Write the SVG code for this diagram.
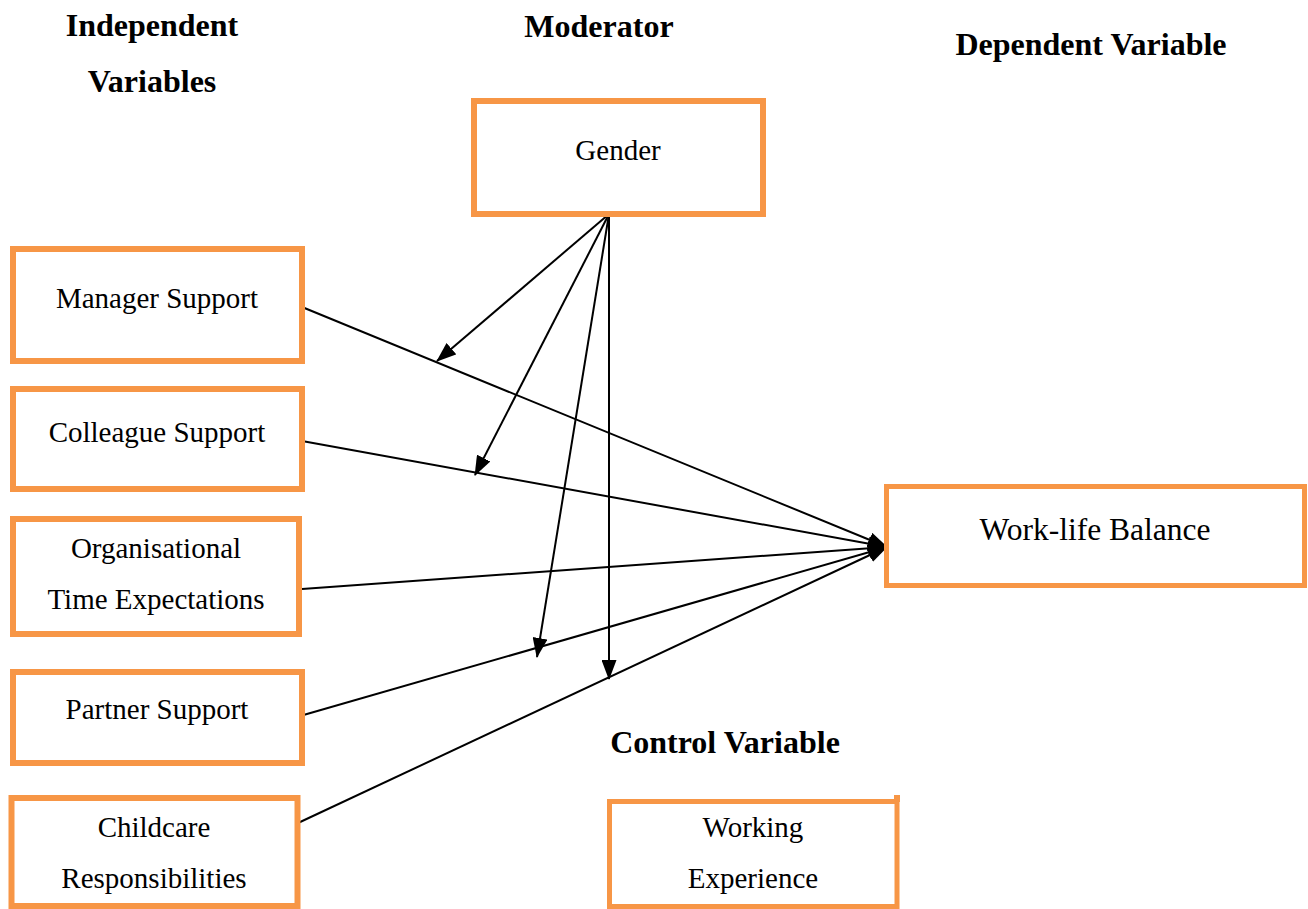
<svg xmlns="http://www.w3.org/2000/svg" width="1308" height="909" viewBox="0 0 1308 909">
<style>
.box{fill:#fff;stroke:#F79646;stroke-width:6}
.t{font-family:"Liberation Serif","Times New Roman",serif;font-size:29px;fill:#000;text-anchor:middle}
.h{font-family:"Liberation Serif","Times New Roman",serif;font-size:32px;font-weight:bold;fill:#000;text-anchor:middle}
.c{stroke:#000;stroke-width:2;fill:none;marker-end:url(#ah)}
</style>
<defs>
<marker id="ah" markerWidth="20" markerHeight="15" refX="19" refY="7.5" orient="auto" markerUnits="userSpaceOnUse">
<path d="M0,0 L20,7.5 L0,15 Z" fill="#000"/>
</marker>
</defs>
<rect width="1308" height="909" fill="#fff"/>
<g id="headings">
<text class="h" x="152" y="36">Independent</text>
<text class="h" x="152" y="92">Variables</text>
<text class="h" x="599" y="37">Moderator</text>
<text class="h" x="1091" y="55">Dependent Variable</text>
<text class="h" x="725" y="753">Control Variable</text>
</g>
<g id="connectors">
<line class="c" x1="302" y1="307" x2="887" y2="547"/>
<line class="c" x1="302" y1="441" x2="887" y2="547"/>
<line class="c" x1="302" y1="589" x2="887" y2="547"/>
<line class="c" x1="300" y1="716" x2="887" y2="547"/>
<line class="c" x1="298" y1="823" x2="887" y2="547"/>
<line class="c" x1="609" y1="214" x2="437" y2="361"/>
<line class="c" x1="609" y1="214" x2="475" y2="475"/>
<line class="c" x1="609" y1="214" x2="537" y2="657"/>
<line class="c" x1="609" y1="214" x2="609" y2="679"/>
</g>
<g id="gender">
<rect class="box" x="474" y="101" width="289" height="113"/>
<text class="t" x="618" y="160">Gender</text>
</g>
<g id="manager">
<rect class="box" x="13" y="249" width="289" height="112"/>
<text class="t" x="157" y="308">Manager Support</text>
</g>
<g id="colleague">
<rect class="box" x="13" y="389" width="289" height="100"/>
<text class="t" x="157" y="442">Colleague Support</text>
</g>
<g id="orgtime">
<rect class="box" x="13" y="519" width="286" height="115"/>
<text class="t" x="156" y="558">Organisational</text>
<text class="t" x="156" y="609">Time Expectations</text>
</g>
<g id="partner">
<rect class="box" x="13" y="672" width="289" height="91"/>
<text class="t" x="157" y="719">Partner Support</text>
</g>
<g id="childcare">
<rect class="box" x="11.5" y="798" width="286" height="108"/>
<text class="t" x="154" y="837">Childcare</text>
<text class="t" x="154" y="888">Responsibilities</text>
</g>
<g id="worklife">
<rect class="box" x="886.5" y="486.5" width="418" height="99" style="stroke-width:5"/>
<text class="t" x="1095" y="540" style="font-size:31.5px">Work-life Balance</text>
</g>
<g id="working">
<rect class="box" x="609.5" y="801.5" width="287.5" height="105" style="stroke-width:5"/>
<line x1="897" y1="795" x2="897" y2="802" stroke="#F79646" stroke-width="6"/>
<text class="t" x="753" y="837">Working</text>
<text class="t" x="753" y="888">Experience</text>
</g>
</svg>
